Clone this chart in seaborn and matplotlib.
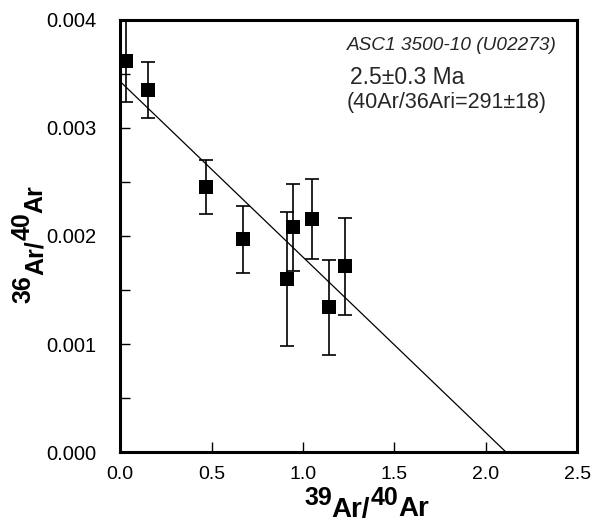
import numpy as np
import pandas as pd
import matplotlib
matplotlib.use("Agg")
import matplotlib.pyplot as plt
import seaborn as sns
from matplotlib.ticker import MultipleLocator, FormatStrFormatter

# 39Ar/40Ar vs 36Ar/40Ar data
x_39_40 = [0.03, 0.15, 0.47, 0.67, 0.91, 0.945, 1.05, 1.14, 1.23]
y_36_40 = [0.00362, 0.00335, 0.00245, 0.00197, 0.00160, 0.00208, 0.00216, 0.00134, 0.00172]
y_err = [0.00038, 0.00026, 0.00025, 0.00031, 0.00062, 0.00040, 0.00037, 0.00044, 0.00045]

# isochron fit: y-intercept and x-intercept
fit_x = [0.0, 2.11]
fit_y = [0.00343, 0.0]

sample_name = "ASC1 3500-10 (U02273)"
age_text = "2.5\u00b10.3 Ma"
ratio_text = "(40Ar/36Ari=291\u00b118)"
xlabel_parts = ["39", "Ar/", "40", "Ar"]
ylabel_parts = ["36", "Ar/", "40", "Ar"]

sns.set_style("ticks")
plt.rcParams["font.family"] = ["Liberation Sans", "DejaVu Sans"]

df = pd.DataFrame({"x": x_39_40, "y": y_36_40, "err": y_err})

fig = plt.figure(figsize=(5.92, 5.25), dpi=100)
ax = fig.add_axes([0.203, 0.139, 0.772, 0.823])

ax.errorbar(df["x"], df["y"], yerr=df["err"], fmt="none", ecolor="black",
            elinewidth=1.2, capsize=5, capthick=1.2, zorder=2)
sns.scatterplot(data=df, x="x", y="y", marker="s", s=110, color="black",
                edgecolor="black", linewidth=0, ax=ax, zorder=3)
sns.lineplot(x=fit_x, y=fit_y, color="black", linewidth=0.9, ax=ax, zorder=1)

ax.set_xlim(0, 2.5)
ax.set_ylim(0, 0.004)
ax.xaxis.set_major_locator(MultipleLocator(0.5))
ax.yaxis.set_major_locator(MultipleLocator(0.001))
ax.yaxis.set_minor_locator(MultipleLocator(0.0005))
ax.xaxis.set_major_formatter(FormatStrFormatter("%.1f"))
ax.yaxis.set_major_formatter(FormatStrFormatter("%.3f"))
ax.tick_params(axis="both", which="both", direction="in", labelsize=14.5,
               width=1, length=7, colors="black")
ax.tick_params(axis="x", pad=10, labelsize=14)
ax.tick_params(axis="y", pad=17)
ax.set_xlabel("")
ax.set_ylabel("")

for sp in ax.spines.values():
    sp.set_linewidth(2.2)
    sp.set_color("black")

# axis labels: digits raised, "Ar" lowered
dig_kw = dict(fontsize=18, fontweight="bold", color="black")
let_kw = dict(fontsize=20, fontweight="bold", color="black")
shift = 9

t = fig.text(304 / 592, 1 - 505 / 525, xlabel_parts[0], ha="left", va="baseline", **dig_kw)
prev = t
for i, p in enumerate(xlabel_parts[1:], 1):
    off = -shift if i % 2 == 1 else shift
    kw = let_kw if i % 2 == 1 else dig_kw
    prev = ax.annotate(p, xy=(1, 0), xycoords=prev, xytext=(0, off),
                       textcoords="offset points", ha="left", va="bottom",
                       annotation_clip=False, **kw)

t = fig.text(11 / 592, 1 - 303 / 525, ylabel_parts[0], ha="left", va="bottom",
             rotation=90, **dig_kw)
prev = t
for i, p in enumerate(ylabel_parts[1:], 1):
    off = shift if i % 2 == 1 else -shift
    prev = ax.annotate(p, xy=(0, 1), xycoords=prev, xytext=(off, 0),
                       textcoords="offset points", ha="left", va="bottom",
                       rotation=90, annotation_clip=False, **dig_kw)

ax.text(0.496, 0.942, sample_name, transform=ax.transAxes, ha="left",
        va="center", fontsize=13.7, style="italic")
ax.text(0.502, 0.866, age_text, transform=ax.transAxes, ha="left",
        va="center", fontsize=16.5)
ax.text(0.496, 0.81, ratio_text, transform=ax.transAxes, ha="left",
        va="center", fontsize=15.5)

fig.savefig("out.png", dpi=100)
